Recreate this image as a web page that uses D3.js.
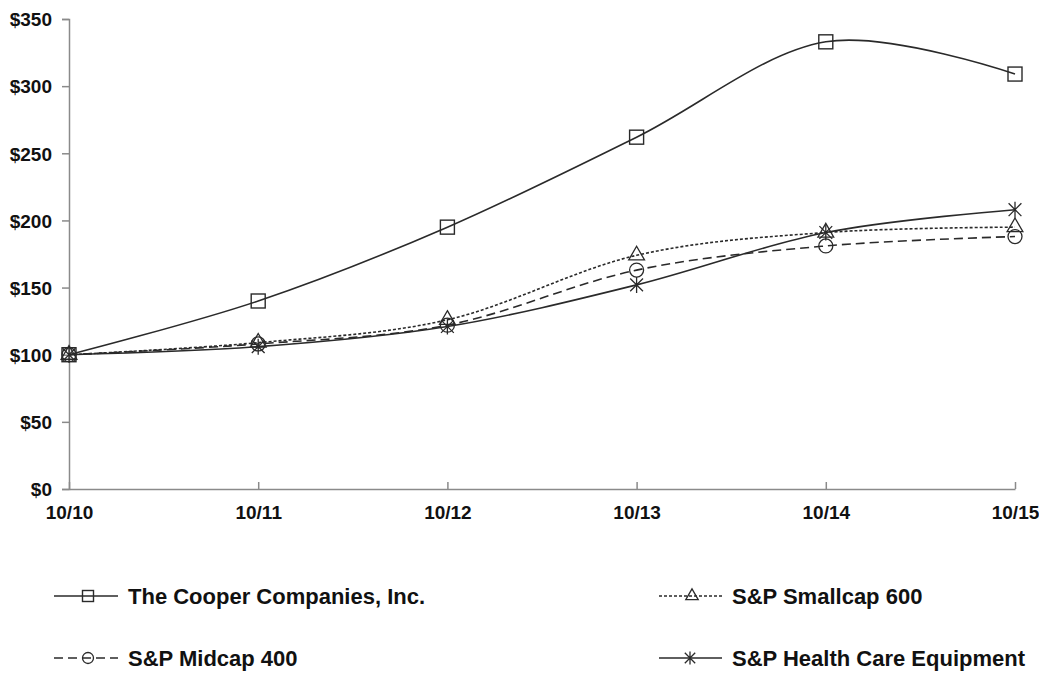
<!DOCTYPE html>
<html><head><meta charset="utf-8">
<script src="https://cdn.jsdelivr.net/npm/d3@7"></script>
<style>body{margin:0;background:#fff}svg{display:block}text{font-family:Arial,"Liberation Sans",sans-serif;font-weight:bold;fill:#111}</style>
</head><body><svg id="c" width="1039" height="673"></svg>
<script>
const categories = ["10/10","10/11","10/12","10/13","10/14","10/15"];
const cooper   = [100, 140, 195, 262, 333, 309];
const smallcap = [100, 109, 126, 174, 191, 195];
const midcap   = [100, 108, 122, 163, 181, 188];
const health   = [100, 106, 121, 152, 191, 208];
const yTicks = [0, 50, 100, 150, 200, 250, 300, 350];
const seriesNames = ["The Cooper Companies, Inc.", "S&P Smallcap 600", "S&P Midcap 400", "S&P Health Care Equipment"];

const series = [
  {name: seriesNames[0], values: cooper,   dash: null,  marker: "square"},
  {name: seriesNames[1], values: smallcap, dash: "3,2", marker: "triangle"},
  {name: seriesNames[2], values: midcap,   dash: "9,5", marker: "circle"},
  {name: seriesNames[3], values: health,   dash: null,  marker: "star"}
];

const svg = d3.select("#c");
const x = d3.scalePoint().domain(categories).range([69, 1015]);
const y = d3.scaleLinear().domain([0, 350]).range([489, 19]);
const ink = "#2a2a2a";

// axes
const yAxis = svg.append("g").attr("transform", "translate(69,0)")
  .call(d3.axisLeft(y).tickValues(yTicks).tickSize(7).tickPadding(10).tickFormat(d => "$" + d));
yAxis.select(".domain").attr("stroke", "#8a8a8a").attr("stroke-width", 1.5);
yAxis.selectAll(".tick line").attr("stroke", "#8a8a8a").attr("stroke-width", 1.5);
yAxis.selectAll("text").style("font-size", "19px").attr("dy", "0.36em");

const xAxis = svg.append("g").attr("transform", "translate(0,489)")
  .call(d3.axisBottom(x).tickSize(-7).tickSizeOuter(0).tickPadding(17));
xAxis.select(".domain").attr("stroke", "#8a8a8a").attr("stroke-width", 1.5);
xAxis.selectAll(".tick line").attr("stroke", "#8a8a8a").attr("stroke-width", 1.5);
xAxis.selectAll("text").style("font-size", "19px").attr("dy", "0.71em");

function marker(g, type, size) {
  const s = size;
  if (type === "square") {
    g.append("rect").attr("x", -s/2).attr("y", -s/2).attr("width", s).attr("height", s)
      .attr("fill", "none").attr("stroke", ink).attr("stroke-width", 1.4);
  } else if (type === "triangle") {
    g.append("path").attr("d", d3.symbol(d3.symbolTriangle, s*s*0.55)())
      .attr("fill", "none").attr("stroke", ink).attr("stroke-width", 1.3);
  } else if (type === "circle") {
    g.append("circle").attr("r", s/2).attr("fill", "none").attr("stroke", ink).attr("stroke-width", 1.3);
  } else {
    const r = s/2 + 1;
    const p = d3.path();
    p.moveTo(0, -r); p.lineTo(0, r);
    p.moveTo(-r*0.8, -r*0.8); p.lineTo(r*0.8, r*0.8);
    p.moveTo(r*0.8, -r*0.8); p.lineTo(-r*0.8, r*0.8);
    g.append("path").attr("d", p.toString()).attr("fill", "none").attr("stroke", ink).attr("stroke-width", 1.3);
  }
}

const line = d3.line().x((d, i) => x(categories[i])).y(d => y(d)).curve(d3.curveCardinal.tension(0));

series.forEach(s => {
  svg.append("path").datum(s.values).attr("d", line)
    .attr("fill", "none").attr("stroke", ink).attr("stroke-width", 1.6)
    .attr("stroke-dasharray", s.dash);
  s.values.forEach((v, i) => {
    marker(svg.append("g").attr("transform", `translate(${x(categories[i])},${y(v)})`), s.marker, 14);
  });
});

// legend
const legendPos = [
  {x1: 54, x2: 118, mx: 88, tx: 128, cy: 596},
  {x1: 659, x2: 722, mx: 692, tx: 732, cy: 596},
  {x1: 54, x2: 118, mx: 88, tx: 128, cy: 658},
  {x1: 659, x2: 722, mx: 690, tx: 732, cy: 658}
];
series.forEach((s, i) => {
  const p = legendPos[i];
  const g = svg.append("g");
  g.append("line").attr("x1", p.x1).attr("x2", p.x2).attr("y1", p.cy).attr("y2", p.cy)
    .attr("stroke", ink).attr("stroke-width", 1.5).attr("stroke-dasharray", s.dash);
  marker(g.append("g").attr("transform", `translate(${p.mx},${p.cy})`), s.marker, 11);
  g.append("text").attr("x", p.tx).attr("y", p.cy).attr("dy", "0.36em")
    .style("font-size", "22px").text(s.name);
});
</script></body></html>
